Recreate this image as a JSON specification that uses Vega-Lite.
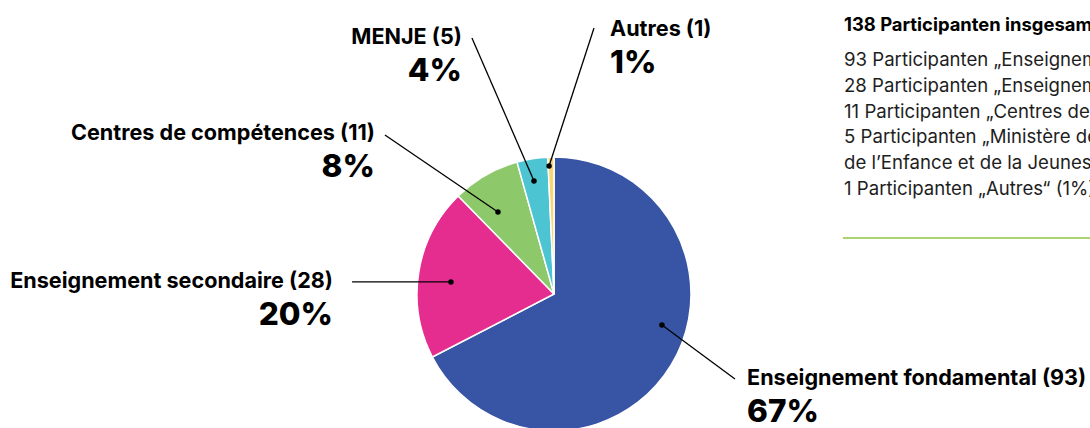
{
  "$schema": "https://vega.github.io/schema/vega-lite/v6.json",
  "width": 1090,
  "height": 428,
  "padding": 0,
  "autosize": {"type": "none"},
  "background": "white",
  "config": {"view": {"stroke": null}, "font": "Inter"},
  "datasets": {
    "slices": [
      {"name": "Enseignement fondamental", "count": 93, "label": "Enseignement fondamental (93)", "pct": "67%", "dotX": 78.8, "dotY": -22.6, "lineX": 132.1, "lineY": -62.0, "labX": 140.9, "labY": -66.4},
      {"name": "Enseignement secondaire", "count": 28, "label": "Enseignement secondaire (28)", "pct": "20%", "dotX": -75.2, "dotY": 8.8, "lineX": -147.4, "lineY": 8.8, "labX": -161.3, "labY": 4.4},
      {"name": "Centres de compétences", "count": 11, "label": "Centres de compétences (11)", "pct": "8%", "dotX": -40.9, "dotY": 59.9, "lineX": -123.4, "lineY": 116.1, "labX": -130.7, "labY": 112.4},
      {"name": "MENJE", "count": 5, "label": "MENJE (5)", "pct": "4%", "dotX": -14.6, "dotY": 82.5, "lineX": -59.9, "lineY": 186.9, "labX": -67.2, "labY": 182.5},
      {"name": "Autres", "count": 1, "label": "Autres (1)", "pct": "1%", "dotX": -3.6, "dotY": 93.4, "lineX": 29.2, "lineY": 194.2, "labX": 40.9, "labY": 188.3}
    ],
    "panel": [
      {"title": "138 Participanten insgesamt", "lines": [
        "93 Participanten „Enseignement fondamental“ (67%)",
        "28 Participanten „Enseignement secondaire“ (20%)",
        "11 Participanten „Centres de compétences“ (8%)",
        "5 Participanten „Ministère de l’Éducation nationale,",
        "de l’Enfance et de la Jeunesse“ (4%)",
        "1 Participanten „Autres“ (1%)"
      ]}
    ]
  },
  "data": {"name": "slices"},
  "layer": [
    {
      "mark": {"type": "arc", "outerRadius": 137, "stroke": "white", "strokeWidth": 1.5},
      "encoding": {
        "theta": {"field": "count", "type": "quantitative", "stack": true},
        "order": {"field": "count", "sort": "descending"},
        "color": {
          "field": "name", "type": "nominal", "legend": null,
          "scale": {
            "domain": ["Enseignement fondamental", "Enseignement secondaire", "Centres de compétences", "MENJE", "Autres"],
            "range": ["#3854A4", "#E52D8F", "#8DC96B", "#4CC4D1", "#F6D672"]
          }
        },
        "x": {"datum": 0, "type": "quantitative", "axis": null, "scale": {"domain": [-404.38, 391.24], "nice": false, "zero": false}},
        "y": {"datum": 0, "type": "quantitative", "axis": null, "scale": {"domain": [-97.81, 214.6], "nice": false, "zero": false}}
      }
    },
    {
      "mark": {"type": "rule", "color": "black", "strokeWidth": 1.3},
      "encoding": {
        "x": {"field": "dotX", "type": "quantitative"},
        "y": {"field": "dotY", "type": "quantitative"},
        "x2": {"field": "lineX"},
        "y2": {"field": "lineY"}
      }
    },
    {
      "mark": {"type": "circle", "color": "black", "opacity": 1, "size": 30},
      "encoding": {
        "x": {"field": "dotX", "type": "quantitative"},
        "y": {"field": "dotY", "type": "quantitative"}
      }
    },
    {
      "transform": [{"filter": "datum.labX < 0"}],
      "mark": {"type": "text", "align": "right", "baseline": "alphabetic", "fontSize": 21.6, "fontWeight": "bold", "color": "black"},
      "encoding": {
        "x": {"field": "labX", "type": "quantitative"},
        "y": {"field": "labY", "type": "quantitative"},
        "text": {"field": "label"}
      }
    },
    {
      "transform": [{"filter": "datum.labX < 0"}],
      "mark": {"type": "text", "align": "right", "baseline": "alphabetic", "fontSize": 31.5, "fontWeight": 800, "dy": 37, "color": "black"},
      "encoding": {
        "x": {"field": "labX", "type": "quantitative"},
        "y": {"field": "labY", "type": "quantitative"},
        "text": {"field": "pct"}
      }
    },
    {
      "transform": [{"filter": "datum.labX > 0"}],
      "mark": {"type": "text", "align": "left", "baseline": "alphabetic", "fontSize": 21.6, "fontWeight": "bold", "color": "black"},
      "encoding": {
        "x": {"field": "labX", "type": "quantitative"},
        "y": {"field": "labY", "type": "quantitative"},
        "text": {"field": "label"}
      }
    },
    {
      "transform": [{"filter": "datum.labX > 0"}],
      "mark": {"type": "text", "align": "left", "baseline": "alphabetic", "fontSize": 31.5, "fontWeight": 800, "dy": 37, "color": "black"},
      "encoding": {
        "x": {"field": "labX", "type": "quantitative"},
        "y": {"field": "labY", "type": "quantitative"},
        "text": {"field": "pct"}
      }
    },
    {
      "data": {"name": "panel"},
      "mark": {"type": "text", "align": "left", "baseline": "alphabetic", "fontSize": 18.4, "fontWeight": "bold", "color": "black"},
      "encoding": {
        "x": {"datum": 211.7, "type": "quantitative"},
        "y": {"datum": 192.0, "type": "quantitative"},
        "text": {"field": "title"}
      }
    },
    {
      "data": {"name": "panel"},
      "mark": {"type": "text", "align": "left", "baseline": "alphabetic", "fontSize": 18.6, "fontWeight": "normal", "lineHeight": 25.8, "color": "#1e1e1e"},
      "encoding": {
        "x": {"datum": 211.7, "type": "quantitative"},
        "y": {"datum": 166.4, "type": "quantitative"},
        "text": {"field": "lines"}
      }
    },
    {
      "data": {"name": "panel"},
      "mark": {"type": "rule", "color": "#8DC63F", "strokeWidth": 1.5},
      "encoding": {
        "x": {"datum": 210.9, "type": "quantitative"},
        "x2": {"datum": 391.24},
        "y": {"datum": 40.9, "type": "quantitative"}
      }
    }
  ]
}
